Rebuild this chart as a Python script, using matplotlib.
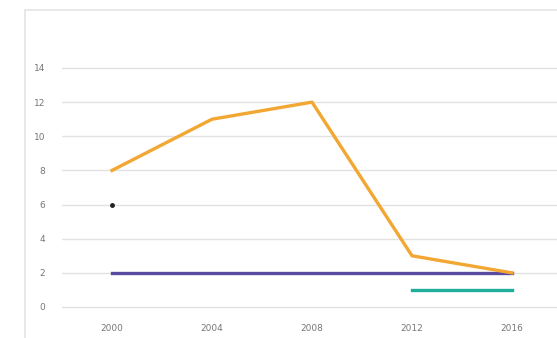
import matplotlib
matplotlib.use("Agg")
from matplotlib import pyplot as plt
from matplotlib.patches import Rectangle

years = [2000, 2004, 2008, 2012, 2016]
orange_vals = [8, 11, 12, 3, 2]
purple_years = [2000, 2016]
purple_vals = [2, 2]
teal_years = [2012, 2016]
teal_vals = [1, 1]
dot_year = [2000]
dot_val = [6]
y_ticks = [0, 2, 4, 6, 8, 10, 12, 14]

W, H = 557, 338
fig = plt.figure(figsize=(W / 100, H / 100), dpi=100)

# cadre gris clair autour du graphique
fig.patches.append(Rectangle((25 / W, -0.1), 1.0, (H - 10) / H + 0.1,
                             transform=fig.transFigure, fill=False,
                             edgecolor='#e4e4e4', linewidth=1.2))

# 0 -> y=307 px, 14 -> y=68 px ; petite marge pour voir la grille du 0
ppu = (307 - 68) / 14
bot = 307 + 0.2 * ppu
top = 68 - 0.2 * ppu
ax = fig.add_axes([62 / W, (H - bot) / H, 500 / W, (bot - top) / H])
ax.set_xlim(1998, 2018)
ax.set_ylim(-0.2, 14.2)

for s in ax.spines.values():
    s.set_visible(False)
ax.set_yticks(y_ticks)
ax.set_xticks(years)
ax.grid(axis='y', color='#e2e2e2', linewidth=1.0)
ax.set_axisbelow(True)
ax.tick_params(length=0, labelsize=6.5, labelcolor='#777777')
ax.tick_params(axis='y', pad=12)
ax.tick_params(axis='x', pad=10)

ax.plot(purple_years, purple_vals, color='#5b4b9e', linewidth=2.4, clip_on=False, zorder=3)
ax.plot(teal_years, teal_vals, color='#1fae9b', linewidth=2.4, clip_on=False, zorder=3)
ax.plot(years, orange_vals, color='#f2a733', linewidth=2.4, clip_on=False, zorder=4)
ax.plot(dot_year, dot_val, 'o', color='#222222', markersize=2.5, clip_on=False, zorder=5)

fig.savefig('out.png', dpi=100)
